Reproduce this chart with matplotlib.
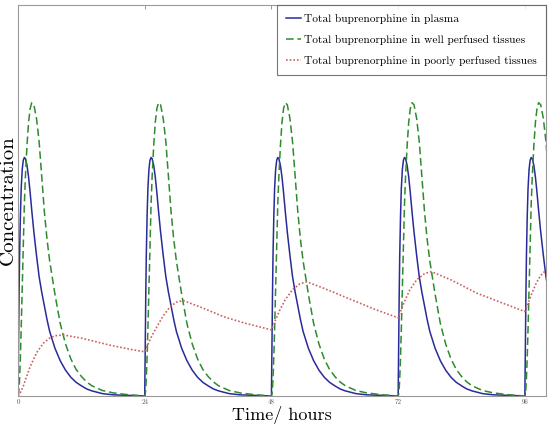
import numpy as np
import matplotlib
matplotlib.use("Agg")
import matplotlib.pyplot as plt

plt.rcParams['font.family'] = ['cmr10', 'DejaVu Serif']
plt.rcParams['mathtext.fontset'] = 'cm'
plt.rcParams['axes.formatter.use_mathtext'] = True

# dose times (hours)
dose_times = [0, 24, 48, 72, 96]

# concentration profile after each dose (relative time, hours)
profile_t = [0, 0.1, 0.2, 0.3, 0.45, 0.6, 0.8, 1.0, 1.2, 1.4, 1.7, 2.0, 2.3, 2.6, 3.0,
             3.5, 4, 4.5, 5, 5.5, 6, 7, 8, 9, 10, 11, 12, 13, 14, 16, 18, 21, 24]
plasma_profile = [0.0, 0.14, 0.26, 0.36, 0.46, 0.53, 0.58, 0.603, 0.61, 0.607, 0.59,
                  0.56, 0.52, 0.475, 0.42, 0.36, 0.305, 0.265, 0.23, 0.195, 0.165,
                  0.122, 0.09, 0.066, 0.048, 0.035, 0.026, 0.018, 0.013, 0.006,
                  0.003, 0.0015, 0.001]
well_profile = [0.0, 0.005, 0.02, 0.045, 0.10, 0.17, 0.28, 0.40, 0.49, 0.56, 0.64,
                0.70, 0.735, 0.75, 0.745, 0.71, 0.65, 0.56, 0.47, 0.40, 0.345,
                0.26, 0.185, 0.133, 0.095, 0.068, 0.05, 0.036, 0.026, 0.014,
                0.008, 0.003, 0.001]

# poorly perfused tissues (not periodic)
poor_t = [0, 0.5, 1, 1.5, 2.3, 3.5, 4.8, 6, 7, 8.6, 12, 17.4, 21, 24,
          24.7, 25.4, 26.3, 27.5, 28.8, 30, 31.3, 35, 38.9, 43, 48,
          48.8, 49.6, 50.6, 52, 53.4, 54.7, 58, 63.2, 67.5, 72,
          72.7, 73.4, 74.2, 75.5, 77, 78.3, 82, 86.9, 91.5, 96,
          96.7, 97.4, 98.2, 99, 100]
poor_vals = [0.0, 0.01, 0.025, 0.045, 0.075, 0.11, 0.135, 0.148, 0.154, 0.156, 0.148, 0.13,
             0.12, 0.113,
             0.135, 0.155, 0.177, 0.205, 0.228, 0.240, 0.244, 0.225, 0.203, 0.186, 0.169,
             0.195, 0.22, 0.246, 0.272, 0.287, 0.292, 0.275, 0.246, 0.222, 0.200,
             0.225, 0.248, 0.271, 0.297, 0.313, 0.318, 0.297, 0.263, 0.239, 0.216,
             0.24, 0.265, 0.29, 0.308, 0.322]

xtick_vals = [0, 24, 48, 72, 96]

# assemble repeated dose profiles
pt = np.array(profile_t)
plasma_t, plasma_v, well_v = [], [], []
for i, d in enumerate(dose_times):
    sl = slice(0, None) if i == len(dose_times) - 1 else slice(0, -1)
    plasma_t.extend((d + pt)[sl])
    plasma_v.extend(np.array(plasma_profile)[sl])
    well_v.extend(np.array(well_profile)[sl])

fig = plt.figure(figsize=(5.49, 4.33), dpi=100)
ax = fig.add_axes([0.0328, 0.0855, 0.9617, 0.903])

ax.plot(plasma_t, plasma_v, color='#2a2a9a', lw=1.1, label='Total buprenorphine in plasma')
ax.plot(plasma_t, well_v, color='#2e8b2e', lw=1.1, ls=(0, (5, 2.5)),
        label='Total buprenorphine in well perfused tissues')
ax.plot(poor_t, poor_vals, color='#cc6060', lw=1.2, ls=(0, (1, 1.2)),
        label='Total buprenorphine in poorly perfused tissues')

ax.set_xlim(0, 100)
ax.set_ylim(0, 1.0)
ax.set_xticks(xtick_vals)
ax.set_xticklabels([str(v) for v in xtick_vals], fontsize=5, color='#555555')
ax.set_yticks([])
ax.tick_params(axis='x', direction='in', length=3, width=0.6, color='#888888',
               top=True, pad=2)
for s in ax.spines.values():
    s.set_color('#999999')
    s.set_linewidth(0.8)

ax.set_xlabel('Time/ hours', fontsize=13, labelpad=1)
ax.set_ylabel('Concentration', fontsize=15, labelpad=1)

leg = ax.legend(loc='upper right', fontsize=8.2, frameon=True, fancybox=False,
                borderaxespad=0, handlelength=1.25, handletextpad=0.3,
                borderpad=0.8, labelspacing=0.95)
leg.get_frame().set_edgecolor('#555555')
leg.get_frame().set_linewidth(0.8)

fig.savefig('out.png', dpi=100)
